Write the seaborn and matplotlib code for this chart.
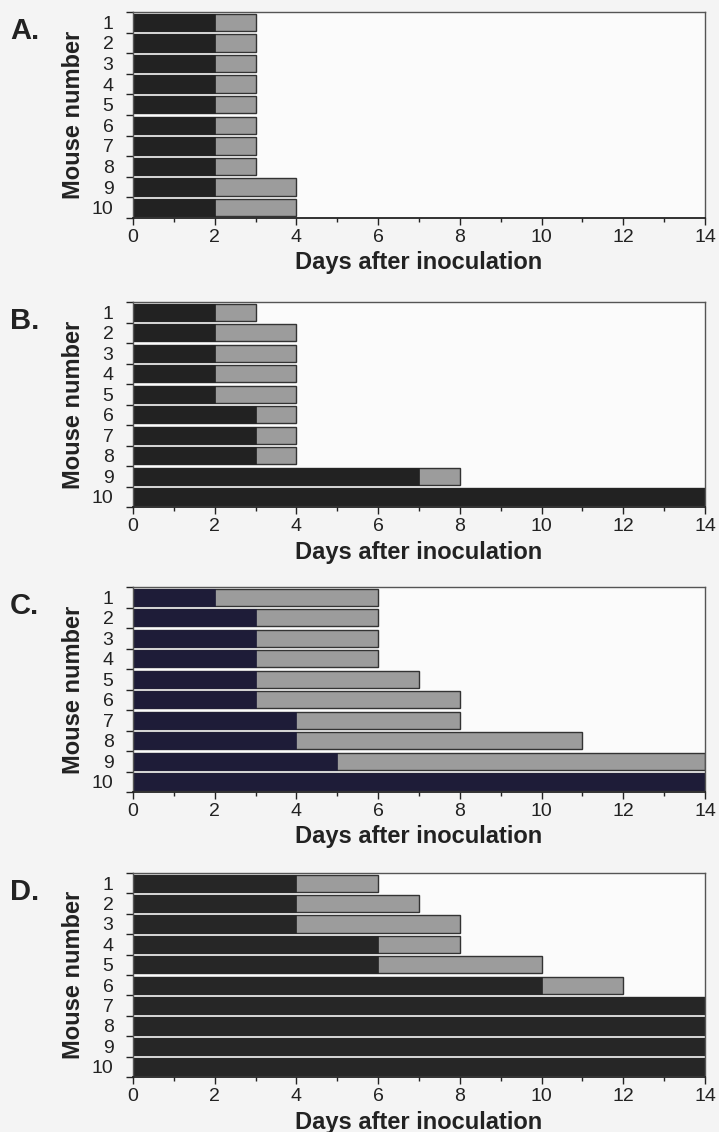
import pandas as pd
import seaborn as sns
import matplotlib.pyplot as plt
from matplotlib.ticker import MultipleLocator, FixedLocator

# Datos: dia de inicio de sintomas (negro) y dia de muerte (gris) por raton
mice = [1, 2, 3, 4, 5, 6, 7, 8, 9, 10]

onset_A = [2, 2, 2, 2, 2, 2, 2, 2, 2, 2]
death_A = [3, 3, 3, 3, 3, 3, 3, 3, 4, 4]

onset_B = [2, 2, 2, 2, 2, 3, 3, 3, 7, 14]
death_B = [3, 4, 4, 4, 4, 4, 4, 4, 8, 14]

onset_C = [2, 3, 3, 3, 3, 3, 4, 4, 5, 14]
death_C = [6, 6, 6, 6, 7, 8, 8, 11, 14, 14]

onset_D = [4, 4, 4, 6, 6, 10, 14, 14, 14, 14]
death_D = [6, 7, 8, 8, 10, 12, 14, 14, 14, 14]

panels = ["A.", "B.", "C.", "D."]
onsets = [onset_A, onset_B, onset_C, onset_D]
deaths = [death_A, death_B, death_C, death_D]
dark_colors = ["#222222", "#222222", "#1e1c38", "#262626"]

x_ticks = [0, 2, 4, 6, 8, 10, 12, 14]

sns.set_style("white")
plt.rcParams["font.family"] = ["Liberation Sans", "DejaVu Sans"]

W, H = 719, 1132
fig = plt.figure(figsize=(W / 100, H / 100), dpi=100, facecolor="#f4f4f4")

# posiciones de los ejes en pixeles (arriba, abajo)
tops = [12, 302, 587, 873]
bottoms = [218, 507, 792, 1077]
left, right = 133, 705

for i in range(4):
    ax = fig.add_axes([left / W, 1 - bottoms[i] / H,
                       (right - left) / W, (bottoms[i] - tops[i]) / H])
    ax.set_facecolor("#fbfbfb")

    df = pd.DataFrame({
        "raton": [str(m) for m in mice],
        "inicio": onsets[i],
        "muerte": deaths[i],
    })

    # barra gris = hasta la muerte, barra negra encima = hasta sintomas
    sns.barplot(data=df, x="muerte", y="raton", orient="h", color="#9c9c9c",
                saturation=1, width=0.85, edgecolor="#333333", linewidth=1.0, ax=ax)
    sns.barplot(data=df, x="inicio", y="raton", orient="h", color=dark_colors[i],
                saturation=1, width=0.85, edgecolor=dark_colors[i], linewidth=0.5, ax=ax)

    ax.set_xlim(0, 14)
    ax.set_ylim(9.5, -0.5)

    ax.xaxis.set_major_locator(FixedLocator(x_ticks))
    ax.xaxis.set_minor_locator(MultipleLocator(1))
    ax.set_xticklabels([str(t) for t in x_ticks])
    ax.tick_params(axis="x", which="major", direction="out", length=5, width=1,
                   pad=3, labelsize=14, bottom=True, color="#222222",
                   labelcolor="#222222")
    ax.tick_params(axis="x", which="minor", direction="out", length=3, width=1,
                   bottom=True, color="#222222")

    # numeros centrados en las barras, marcas entre filas
    ax.yaxis.set_minor_locator(FixedLocator([k + 0.5 for k in range(-1, 10)]))
    ax.tick_params(axis="y", which="major", length=0, pad=14, labelsize=14,
                   labelcolor="#222222")
    ax.tick_params(axis="y", which="minor", direction="out", length=5, width=1,
                   left=True, color="#222222")

    for s in ["top", "right", "left"]:
        ax.spines[s].set_color("#555555")
        ax.spines[s].set_linewidth(1.0)
    ax.spines["bottom"].set_color("#222222")
    ax.spines["bottom"].set_linewidth(1.3)

    h = bottoms[i] - tops[i]
    ax.set_xlabel("Days after inoculation", fontsize=17, fontweight="bold",
                  color="#222222", va="center")
    ax.xaxis.set_label_coords(0.5, -45 / h)
    ax.set_ylabel("Mouse number", fontsize=17, fontweight="bold",
                  color="#222222", va="center")
    ax.yaxis.set_label_coords(-60 / (right - left), 0.5)

    fig.text(10 / W, 1 - (tops[i] + 19) / H, panels[i], fontsize=21,
             fontweight="bold", color="#222222", ha="left", va="center")

plt.savefig("out.png", dpi=100, facecolor=fig.get_facecolor())
